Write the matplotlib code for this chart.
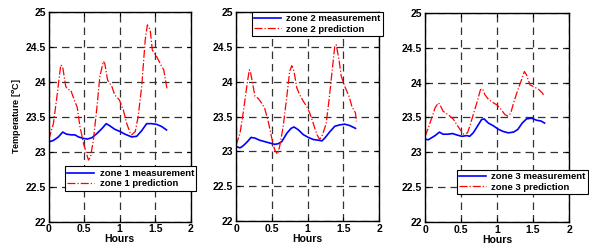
"""
三个区域的温度测量值与预测值对比图
"""
import matplotlib
matplotlib.use('Agg')
import matplotlib.pyplot as plt
from matplotlib.ticker import FormatStrFormatter

plt.rcParams['font.family'] = ['Liberation Sans', 'DejaVu Sans']
plt.rcParams['font.weight'] = 'bold'

# zone 1
z1_meas_t = [0, 0.066, 0.136, 0.197, 0.25, 0.32, 0.37, 0.42, 0.49, 0.545, 0.61, 0.68, 0.75,
             0.81, 0.86, 0.93, 1.00, 1.075, 1.17, 1.24, 1.31, 1.38, 1.45, 1.52, 1.59, 1.66]
z1_meas = [23.14, 23.16, 23.21, 23.28, 23.25, 23.24, 23.24, 23.21, 23.19, 23.18, 23.20, 23.26, 23.33,
           23.40, 23.37, 23.32, 23.29, 23.25, 23.21, 23.22, 23.30, 23.40, 23.40, 23.39, 23.36, 23.31]
z1_pred_t = [0, 0.066, 0.11, 0.17, 0.197, 0.24, 0.27, 0.31, 0.37, 0.40, 0.44, 0.49, 0.53, 0.56,
             0.59, 0.63, 0.68, 0.72, 0.77, 0.79, 0.83, 0.89, 0.93, 0.995, 1.05, 1.10, 1.15, 1.17,
             1.22, 1.26, 1.31, 1.36, 1.39, 1.43, 1.46, 1.52, 1.58, 1.62, 1.67]
z1_pred = [23.17, 23.40, 23.74, 24.24, 24.21, 23.93, 23.89, 23.88, 23.71, 23.64, 23.36, 23.12, 22.98, 22.88,
           22.93, 23.17, 23.64, 24.07, 24.29, 24.26, 24.02, 23.93, 23.81, 23.74, 23.60, 23.40, 23.26, 23.24,
           23.29, 23.50, 23.93, 24.60, 24.81, 24.74, 24.45, 24.36, 24.24, 24.17, 23.88]

# zone 2
z2_meas_t = [0, 0.056, 0.10, 0.16, 0.21, 0.265, 0.33, 0.40, 0.47, 0.54, 0.59, 0.64, 0.71, 0.77,
             0.81, 0.87, 0.94, 1.01, 1.08, 1.15, 1.20, 1.24, 1.31, 1.38, 1.45, 1.52, 1.59, 1.67]
z2_meas = [23.07, 23.05, 23.08, 23.14, 23.20, 23.19, 23.16, 23.14, 23.12, 23.10, 23.11, 23.14, 23.26, 23.33,
           23.35, 23.31, 23.24, 23.20, 23.17, 23.16, 23.15, 23.19, 23.28, 23.36, 23.38, 23.39, 23.37, 23.33]
z2_pred_t = [0, 0.056, 0.10, 0.16, 0.186, 0.2, 0.24, 0.265, 0.31, 0.36, 0.40, 0.45, 0.50, 0.54, 0.58,
             0.61, 0.66, 0.71, 0.75, 0.78, 0.81, 0.85, 0.89, 0.94, 0.99, 1.03, 1.08, 1.13, 1.17, 1.21,
             1.26, 1.30, 1.35, 1.38, 1.40, 1.44, 1.47, 1.52, 1.58, 1.62, 1.67, 1.68]
z2_pred = [23.09, 23.26, 23.55, 24.00, 24.17, 24.15, 23.93, 23.79, 23.76, 23.69, 23.62, 23.43, 23.19, 23.02, 22.96,
           23.07, 23.36, 23.79, 24.15, 24.23, 24.15, 23.91, 23.81, 23.72, 23.64, 23.55, 23.40, 23.24, 23.17, 23.24,
           23.40, 23.74, 24.22, 24.51, 24.53, 24.31, 24.08, 23.93, 23.79, 23.64, 23.55, 23.43]

# zone 3
z3_meas_t = [0, 0.046, 0.092, 0.14, 0.20, 0.25, 0.32, 0.38, 0.44, 0.51, 0.58, 0.62, 0.67, 0.725, 0.785,
             0.82, 0.88, 0.95, 1.02, 1.085, 1.155, 1.23, 1.29, 1.35, 1.41, 1.48, 1.55, 1.61, 1.66]
z3_meas = [23.19, 23.18, 23.21, 23.24, 23.29, 23.26, 23.26, 23.27, 23.25, 23.23, 23.24, 23.23, 23.28, 23.37, 23.47,
           23.48, 23.42, 23.38, 23.33, 23.30, 23.28, 23.29, 23.33, 23.42, 23.48, 23.49, 23.46, 23.45, 23.42]
z3_pred_t = [0, 0.046, 0.092, 0.14, 0.185, 0.21, 0.25, 0.32, 0.39, 0.44, 0.485, 0.54, 0.59, 0.62, 0.67,
             0.725, 0.77, 0.80, 0.83, 0.88, 0.95, 1.00, 1.06, 1.11, 1.15, 1.19, 1.23, 1.29, 1.34, 1.38,
             1.41, 1.455, 1.51, 1.57, 1.63, 1.66]
z3_pred = [23.23, 23.35, 23.49, 23.64, 23.71, 23.68, 23.59, 23.54, 23.48, 23.40, 23.33, 23.26, 23.28, 23.37, 23.54,
           23.73, 23.90, 23.91, 23.83, 23.76, 23.71, 23.68, 23.61, 23.54, 23.52, 23.56, 23.71, 23.90, 24.04, 24.16,
           24.11, 23.97, 23.94, 23.91, 23.85, 23.80]

zones = [
    (z1_meas_t, z1_meas, z1_pred_t, z1_pred),
    (z2_meas_t, z2_meas, z2_pred_t, z2_pred),
    (z3_meas_t, z3_meas, z3_pred_t, z3_pred),
]
xticks = [0, 0.5, 1, 1.5, 2]
yticks = [22, 22.5, 23, 23.5, 24, 24.5, 25]

# 轴的位置 (left, bottom, width, height)
positions = [
    [0.0827, 0.0914, 0.241, 0.861],
    [0.4007, 0.094, 0.243, 0.857],
    [0.7216, 0.090, 0.2445, 0.857],
]
# 图例位置 (loc, bbox_to_anchor)
legend_pos = [
    ('lower left', (0.115, 0.148)),
    ('upper left', (0.11, 1.0)),
    ('lower left', (0.22, 0.134)),
]

fig = plt.figure(figsize=(5.89, 2.44), dpi=100)
fig.patch.set_facecolor('white')

for i, (mt, mv, pt, pv) in enumerate(zones):
    ax = fig.add_axes(positions[i])
    ax.plot(mt, mv, color='#0000ff', lw=1.2, label=f'zone {i+1} measurement')
    ax.plot(pt, pv, color='#ff0000', lw=0.9, ls='-.', label=f'zone {i+1} prediction')
    ax.set_xlim(0, 2)
    ax.set_ylim(22, 25)
    ax.set_xticks(xticks)
    ax.set_yticks(yticks)
    ax.xaxis.set_major_formatter(FormatStrFormatter('%g'))
    ax.yaxis.set_major_formatter(FormatStrFormatter('%g'))
    ax.grid(True, color='#333333', ls=(0, (6, 4)), lw=0.9)
    ax.tick_params(direction='in', top=True, right=True, length=3, width=0.8,
                   labelsize=7.5, pad=2)
    for lab in ax.get_xticklabels() + ax.get_yticklabels():
        lab.set_fontweight('bold')
    for sp in ax.spines.values():
        sp.set_linewidth(1.0)
        sp.set_color('black')
    ax.set_xlabel('Hours', fontsize=7.5, fontweight='bold', labelpad=0)
    if i == 0:
        ax.set_ylabel(r'Temperature [$^{o}$C]', fontsize=6.5, fontweight='bold', labelpad=2)
    loc, anchor = legend_pos[i]
    leg = ax.legend(loc=loc, bbox_to_anchor=anchor, fontsize=6.8, frameon=True,
                    fancybox=False, framealpha=1, edgecolor='black', handlelength=2.8,
                    borderpad=0.25, labelspacing=0.15, handletextpad=0.6, borderaxespad=0)
    leg.get_frame().set_linewidth(0.8)
    for t in leg.get_texts():
        t.set_fontweight('bold')

fig.savefig('out.png', dpi=100)
